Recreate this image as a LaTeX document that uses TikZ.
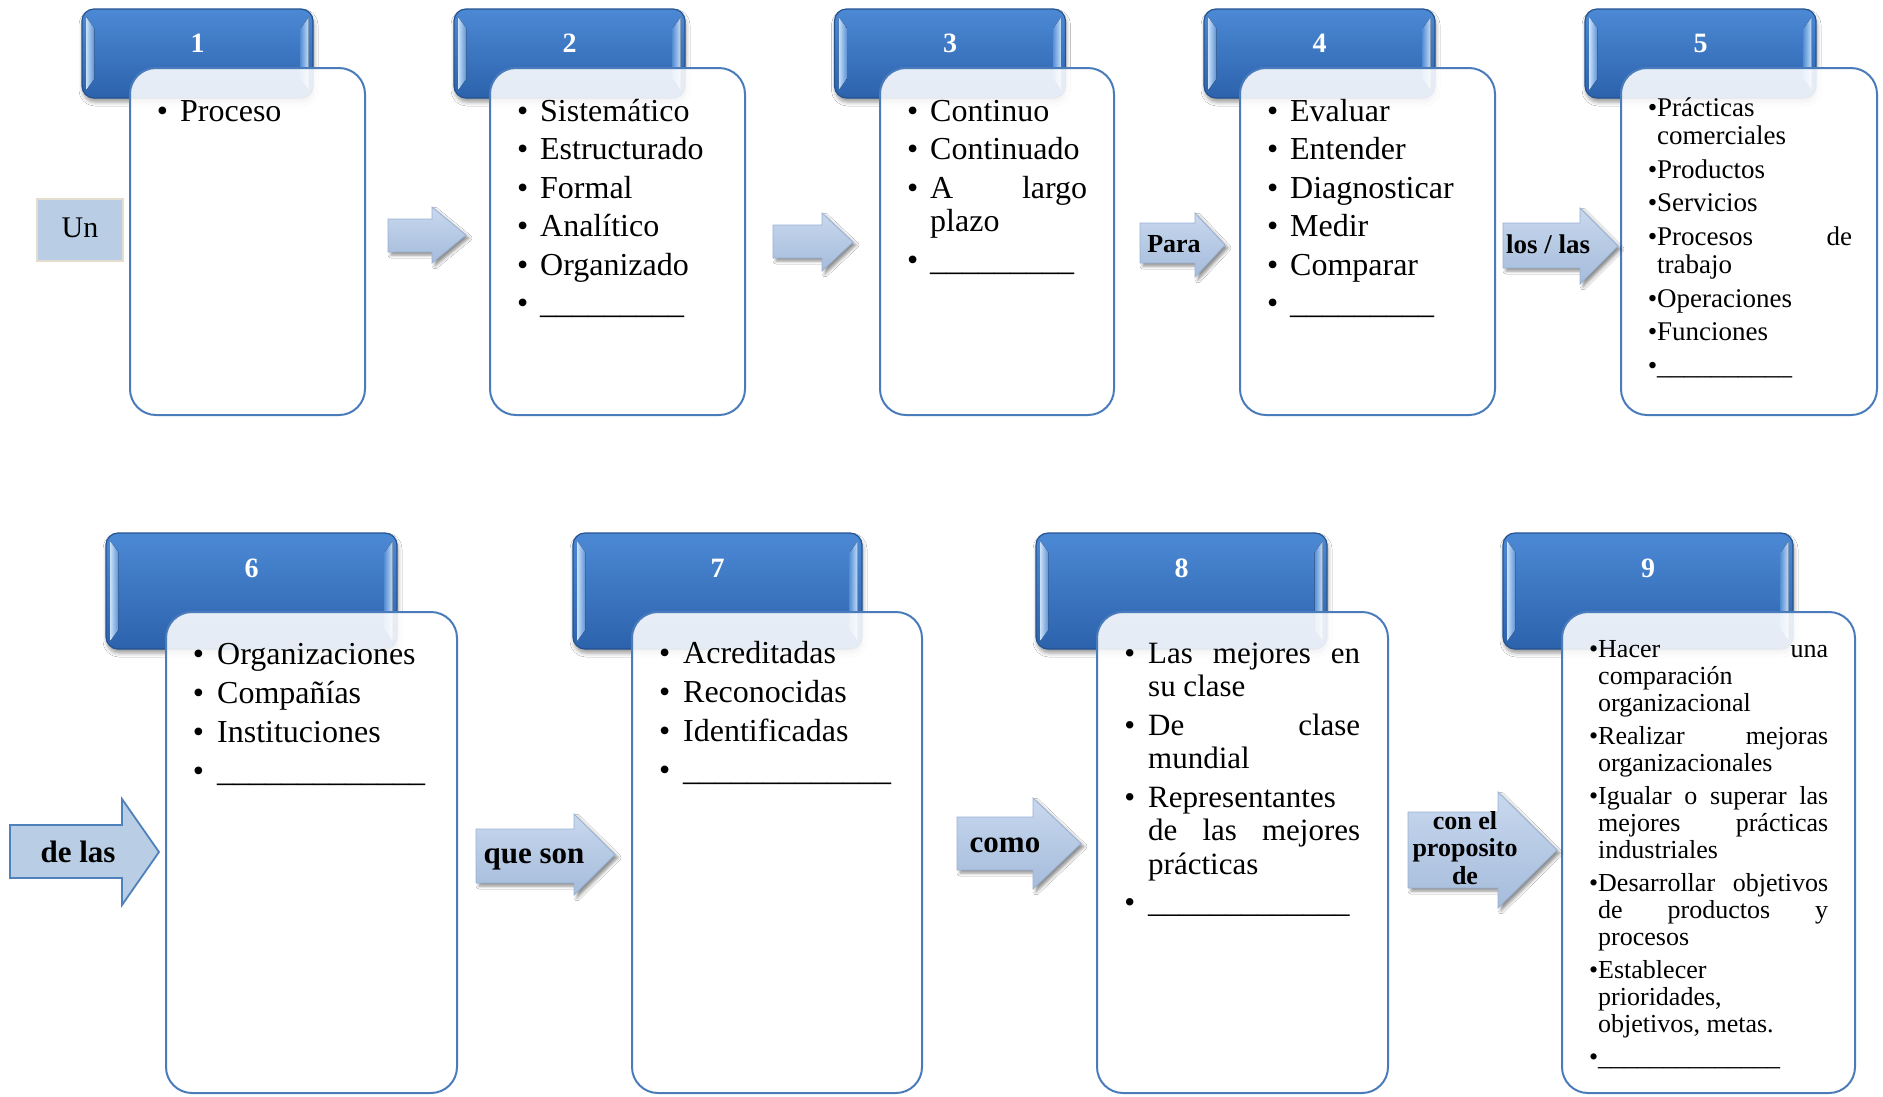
\documentclass[tikz,border=0pt]{standalone}
\usepackage{fontspec}
\setmainfont{Liberation Serif}
\usetikzlibrary{shadows.blur}

\definecolor{hdrTop}{HTML}{4C89D5}
\definecolor{hdrBot}{HTML}{2C62AC}
\definecolor{hdrLine}{HTML}{24528F}
\definecolor{bevLight}{HTML}{C6DDF7}
\definecolor{bevDark}{HTML}{5A92D6}
\definecolor{boxLine}{HTML}{4A7CBC}
\definecolor{arrTop}{HTML}{C8D8EE}
\definecolor{arrBot}{HTML}{A5BCDB}
\definecolor{arrLine}{HTML}{98B1D4}
\definecolor{paleBlue}{HTML}{B9CDE5}
\definecolor{midBlue}{HTML}{4F81BD}
\definecolor{creamLine}{HTML}{E3DDD0}

% bullet hung to the left of the text column
\newlength\bgap
\newcommand\itm{\leavevmode\llap{\textbullet\hspace{\bgap}}}
% a line spread to the full column width
\newcommand\jl[1]{\makebox[\linewidth][s]{#1}}
% block arrow: style, tail x, head start x, tip x, head top, shaft top, shaft bottom, head bottom
\newcommand\blockarrow[8]{%
  \path[#1] (#2,#6) -- (#3,#6) -- (#3,#5) -- (#4,{(#5+#8)/2}) -- (#3,#8) -- (#3,#7) -- (#2,#7) -- cycle;}
% light bevel strips on the inner left and right edges of a header
\newcommand\bevels[1]{%
  \fill[left color=bevLight, right color=bevDark]
    ([shift={(5,9)}]#1.north west) -- ([shift={(13,20)}]#1.north west) --
    ([shift={(13,-20)}]#1.south west) -- ([shift={(5,-9)}]#1.south west) -- cycle;
  \fill[left color=bevDark, right color=bevLight]
    ([shift={(-5,9)}]#1.north east) -- ([shift={(-13,20)}]#1.north east) --
    ([shift={(-13,-20)}]#1.south east) -- ([shift={(-5,-9)}]#1.south east) -- cycle;}

\begin{document}
\begin{tikzpicture}[x=1pt,y=-1pt,
  hdr/.style={rectangle, rounded corners=12pt, top color=hdrTop, bottom color=hdrBot,
    draw=hdrLine, line width=1.2pt, inner sep=0,
    blur shadow={shadow xshift=1pt, shadow yshift=-4pt, shadow opacity=40, shadow blur radius=4pt}},
  cbox/.style={rectangle, rounded corners=26pt, fill=white, fill opacity=0.88,
    draw=boxLine, draw opacity=1, line width=2pt, inner sep=0},
  num/.style={anchor=base, inner sep=0, text=white, font=\bfseries\fontsize{28}{30}\selectfont},
  txt/.style={anchor=base west, inner sep=0},
  lbl/.style={anchor=base, inner sep=0},
  lightarrow/.style={top color=arrTop, bottom color=arrBot, draw=arrLine, line width=0.8pt,
    blur shadow={shadow xshift=3pt, shadow yshift=-3pt, shadow opacity=45, shadow blur radius=3pt}},
  darkarrow/.style={fill=paleBlue, draw=midBlue, line width=1.8pt, line join=miter},
]
\useasboundingbox (0,0) rectangle (1883,1096);
\fill[white] (0,0) rectangle (1883,1096);

% ---------- headers, row 1 ----------
\node[hdr, minimum width=231, minimum height=89] (h1) at (197.5,53.5) {};
\node[hdr, minimum width=231, minimum height=89] (h2) at (569.5,53.5) {};
\node[hdr, minimum width=231, minimum height=89] (h3) at (950,53.5) {};
\node[hdr, minimum width=231, minimum height=89] (h4) at (1319.5,53.5) {};
\node[hdr, minimum width=231, minimum height=89] (h5) at (1700.5,53.5) {};
% ---------- headers, row 2 ----------
\node[hdr, minimum width=291, minimum height=116] (h6) at (251.5,591) {};
\node[hdr, minimum width=289, minimum height=116] (h7) at (717.5,591) {};
\node[hdr, minimum width=291, minimum height=116] (h8) at (1181.5,591) {};
\node[hdr, minimum width=290, minimum height=116] (h9) at (1648,591) {};
\foreach \h in {h1,h2,h3,h4,h5,h6,h7,h8,h9} {\bevels{\h}}

\node[num] (n1) at (197.5,52) {1};
\node[num] (n2) at (569.5,52) {2};
\node[num] (n3) at (950,52) {3};
\node[num] (n4) at (1319.5,52) {4};
\node[num] (n5) at (1700.5,52) {5};
\node[num] (n6) at (251.5,577) {6};
\node[num] (n7) at (717.5,577) {7};
\node[num] (n8) at (1181.5,577) {8};
\node[num] (n9) at (1648,577) {9};

% ---------- content boxes ----------
\node[cbox, minimum width=235, minimum height=347] (b1) at (247.5,241.5) {};
\node[cbox, minimum width=255, minimum height=347] (b2) at (617.5,241.5) {};
\node[cbox, minimum width=234, minimum height=347] (b3) at (997,241.5) {};
\node[cbox, minimum width=255, minimum height=347] (b4) at (1367.5,241.5) {};
\node[cbox, minimum width=256, minimum height=347] (b5) at (1749,241.5) {};
\node[cbox, minimum width=291, minimum height=481] (b6) at (311.5,852.5) {};
\node[cbox, minimum width=290, minimum height=481] (b7) at (777,852.5) {};
\node[cbox, minimum width=291, minimum height=481] (b8) at (1242.5,852.5) {};
\node[cbox, minimum width=293, minimum height=481] (b9) at (1708.5,852.5) {};

% ---------- box texts ----------
\node[txt] (t1) at (180,121) {\parbox[t]{157pt}{\fontsize{32}{33.5}\selectfont\setlength\bgap{12pt}%
  \itm Proceso}};
\node[txt] (t2) at (540,121) {\parbox[t]{177pt}{\fontsize{32}{33.5}\selectfont\setlength\bgap{12pt}%
  \itm Sistemático\\[5pt]\itm Estructurado\\[5pt]\itm Formal\\[5pt]\itm Analítico\\[5pt]%
  \itm Organizado\\[5pt]\itm \_\_\_\_\_\_\_\_\_}};
\node[txt] (t3) at (930,121) {\parbox[t]{157pt}{\fontsize{32}{33.5}\selectfont\setlength\bgap{12pt}%
  \itm Continuo\\[5pt]\itm Continuado\\[5pt]\itm\jl{A largo}\\plazo\\[5pt]%
  \itm \_\_\_\_\_\_\_\_\_}};
\node[txt] (t4) at (1290,121) {\parbox[t]{177pt}{\fontsize{32}{33.5}\selectfont\setlength\bgap{12pt}%
  \itm Evaluar\\[5pt]\itm Entender\\[5pt]\itm Diagnosticar\\[5pt]\itm Medir\\[5pt]%
  \itm Comparar\\[5pt]\itm \_\_\_\_\_\_\_\_\_}};
\node[txt] (t5) at (1657,116) {\parbox[t]{195pt}{\fontsize{27}{28.5}\selectfont\setlength\bgap{0pt}%
  \itm Prácticas\\comerciales\\[5pt]\itm Productos\\[5pt]\itm Servicios\\[5pt]%
  \itm\jl{Procesos de}\\trabajo\\[5pt]\itm Operaciones\\[5pt]\itm Funciones\\[5pt]%
  \itm \_\_\_\_\_\_\_\_\_\_}};
\node[txt] (t6) at (217,664) {\parbox[t]{212pt}{\fontsize{32}{34}\selectfont\setlength\bgap{13pt}%
  \itm Organizaciones\\[5pt]\itm Compañías\\[5pt]\itm Instituciones\\[5pt]%
  \itm \_\_\_\_\_\_\_\_\_\_\_\_\_}};
\node[txt] (t7) at (683,663) {\parbox[t]{211pt}{\fontsize{32}{34}\selectfont\setlength\bgap{13pt}%
  \itm Acreditadas\\[5pt]\itm Reconocidas\\[5pt]\itm Identificadas\\[5pt]%
  \itm \_\_\_\_\_\_\_\_\_\_\_\_\_}};
\node[txt] (t8) at (1148,663) {\parbox[t]{212pt}{\fontsize{31}{33.5}\selectfont\setlength\bgap{13pt}%
  \itm\jl{Las mejores en}\\su clase\\[5pt]\itm\jl{De clase}\\mundial\\[5pt]%
  \itm Representantes\\\jl{de las mejores}\\prácticas\\[5pt]%
  \itm \_\_\_\_\_\_\_\_\_\_\_\_\_}};
\node[txt] (t9) at (1598,657) {\parbox[t]{230pt}{\fontsize{26}{27}\selectfont\setlength\bgap{0pt}%
  \itm\jl{Hacer una}\\comparación\\organizacional\\[6pt]%
  \itm\jl{Realizar mejoras}\\organizacionales\\[6pt]%
  \itm\jl{Igualar o superar las}\\\jl{mejores prácticas}\\industriales\\[6pt]%
  \itm\jl{Desarrollar objetivos}\\\jl{de productos y}\\procesos\\[6pt]%
  \itm Establecer\\prioridades,\\objetivos, metas.\\[6pt]%
  \itm \_\_\_\_\_\_\_\_\_\_\_\_\_\_}};

% ---------- "Un" tag ----------
\node[rectangle, fill=paleBlue, draw=creamLine, line width=1.2pt, minimum width=86, minimum height=62] (un) at (80,230) {};
\node[lbl, font=\fontsize{30}{32}\selectfont] (lun) at (80,237) {Un};

% ---------- block arrows, row 1 ----------
\blockarrow{lightarrow}{388}{432}{466}{207}{219}{252}{263}
\blockarrow{lightarrow}{773}{822}{853}{213}{225}{258}{271}
\blockarrow{lightarrow}{1140}{1195}{1225}{213}{223}{263}{277}
\blockarrow{lightarrow}{1503}{1580}{1618}{208}{223}{268}{284}
\node[lbl, font=\bfseries\fontsize{26}{28}\selectfont] (lpara) at (1174,252) {Para};
\node[lbl, font=\bfseries\fontsize{27}{29}\selectfont] (llos) at (1548,253) {los / las};

% ---------- block arrows, row 2 ----------
\blockarrow{darkarrow}{10}{122}{159}{799}{825}{878}{905}
\blockarrow{lightarrow}{476}{574}{615}{814}{829}{883}{895}
\blockarrow{lightarrow}{957}{1033}{1081}{798}{817}{870}{889}
\blockarrow{lightarrow}{1408}{1498}{1557}{792}{812}{888}{908}
\node[lbl, font=\bfseries\fontsize{31}{33}\selectfont] (lde) at (78,862) {de las};
\node[lbl, font=\bfseries\fontsize{31}{33}\selectfont] (lque) at (534,863) {que son};
\node[lbl, font=\bfseries\fontsize{31}{33}\selectfont] (lcomo) at (1005,852) {como};
\node[lbl, font=\bfseries\fontsize{26}{27.5}\selectfont] (lcon) at (1465,829)
  {\parbox[t]{130pt}{\centering con el\\proposito\\de}};
\end{tikzpicture}
\end{document}
